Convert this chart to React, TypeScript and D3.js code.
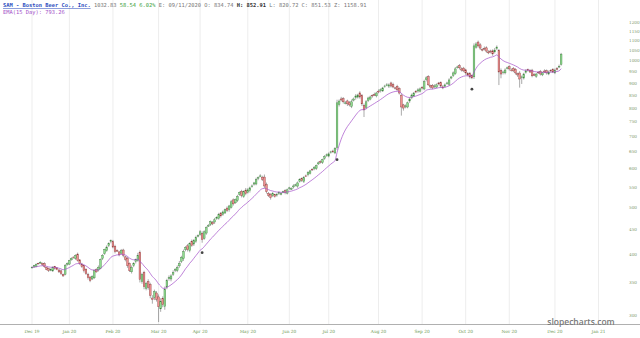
import React, { useEffect } from "react";
import * as d3 from "d3";

// Daily closes (Dec 2019 – Dec 2020)
const closes: number[] = [
  376, 379, 381, 383, 385, 381, 377, 372, 370, 372,
  376, 374, 372, 368, 365, 361, 379, 383, 388, 392,
  394, 398, 388, 383, 377, 370, 365, 358, 353, 360,
  370, 368, 376, 390, 398, 409, 414, 421, 427, 414,
  405, 407, 399, 407, 398, 390, 379, 370, 376, 383,
  390, 398, 355, 363, 343, 348, 342, 329, 323, 335,
  323, 312, 320, 315, 339, 353, 358, 361, 367, 372,
  376, 383, 394, 405, 413, 409, 421, 417, 427, 433,
  437, 445, 429, 445, 454, 458, 467, 462, 471, 476,
  483, 480, 489, 494, 492, 503, 513, 508, 518, 526,
  536, 528, 538, 533, 543, 548, 553, 561, 570, 575,
  580, 570, 553, 538, 528, 523, 533, 526, 531, 536,
  533, 538, 536, 543, 548, 546, 553, 556, 561, 570,
  567, 575, 580, 589, 594, 597, 603, 609, 617, 620,
  626, 635, 641, 644, 650, 650, 660, 820, 827, 831,
  824, 820, 816, 812, 824, 835, 847, 851, 843, 816,
  793, 824, 839, 843, 847, 851, 859, 863, 872, 880,
  888, 893, 893, 888, 884, 880, 872, 859, 804, 800,
  808, 820, 835, 851, 859, 863, 872, 876, 880, 906,
  923, 893, 884, 880, 888, 893, 897, 888, 880, 893,
  901, 914, 927, 945, 963, 972, 968, 958, 954, 945,
  936, 927, 923, 1074, 1084, 1074, 1063, 1053, 1058, 1048,
  1039, 1044, 1034, 1053, 1068, 949, 940, 949, 958, 968,
  963, 958, 954, 945, 936, 918, 927, 940, 954, 958,
  949, 932, 936, 940, 945, 940, 945, 949, 945, 949,
  954, 949, 958, 963, 974.29, 1032.83,
];

// Opening gap versus the previous close, in tenths of a percent
const openGap: number[] = [
  0, 3, -4, 6, 2, -5, 4, -3, 5, 2, -6, 4, 3, -2, 5, -4, 8, 6, -3, 4, 7,
  -5, 6, 4, -3, 5, 7, -4, 3, 8, -6, 5, 9, -4, 6, 8, -5, 7, 10, -6, 4, 5,
  -6, 8, 3, -7, 6, 10, -5, 8, 9, -4, 15, -10, 12, -8, 10, 14, -12, 9, -6,
  12, -10, 14, -8, 10, 9, -6, 8, 12, -5, 7, 10, -6, 9, 8, -5, 11, 7, -4, 9, 6, -8,
  5, -6, 8, 6, -4, 9, 5, -3, 7, 6, -5, 8, 4, -6, 9, 5, -4, 10, 6, -5, 8, 7, -4, 6, 9, -5, 5, 8, -6, 12, 7, -8, 6, 10, -5, 7, 4, -6, 8, 5, -3,
  6, -5, 8, 4, -6, 7, 5, -4, 9, 6, -3, 7, 5, -5, 8, 6, -4, 7, 5, -6, 9, 4, -5,
  5, -8, 10, 7, -6, 9, 5, -7, 8, 6, -5, 10, 7, -8, 12, 6, -5, 8, 7, -4, 9, 6, -5, 8, 5, -6, 9, 7, -4, 8, 6, -10, 10, 7, -5, 9, 6, -4, 8, 5, -6,
  7, -5, 10, 6, -4, 8, 7, -5, 9, 6, -4, 8, 5, -6, 9, 7, -4, 8, 6, -5, 9, 5, -4, 7, 6, 5, -6, 9, 5, -7, 8, 6, -4, 9, 5, 10, 7, -15, 8, 6, -4, 9, 5,
  -5, 8, 6, -4, 9, 7, -5, 8, 6, -3, 9, 5, -6, 8, 7, -4, 9, 6, -5, 8, 7, -4, 6, 9, 10,
];

// Upper / lower wick length beyond the body, in tenths of a percent
const wickHi: number[] = [
  5, 4, 6, 3, 5, 4, 7, 3, 4, 6, 5, 3, 4, 5, 6, 4, 8, 5, 4, 6, 3,
  5, 7, 4, 6, 3, 5, 8, 4, 6, 5, 7, 9, 5, 6, 4, 8, 6, 5, 9, 7, 6,
  5, 8, 6, 4, 7, 5, 9, 6, 5, 12, 8, 10, 7, 9, 11, 8, 14, 10, 9,
  12, 15, 10, 13, 9, 11, 8, 10, 7, 9, 12, 8, 10, 7, 9, 6, 8, 7, 9, 6, 8, 10,
  7, 6, 8, 5, 7, 9, 6, 8, 5, 7, 6, 8, 5, 9, 7, 6, 8, 5, 7, 6, 10, 8, 6, 7, 5, 9, 6, 8, 7, 12, 9, 7, 6, 8, 5, 7, 6, 8, 5, 7, 6,
  5, 6, 8, 5, 7, 6, 5, 8, 6, 7, 5, 6, 8, 5, 7, 6, 5, 8, 6, 7, 5, 6, 7,
  15, 8, 10, 7, 9, 6, 8, 11, 7, 9, 6, 8, 7, 10, 8, 6, 7, 5, 9, 6, 8, 7, 5, 6, 8, 7, 6, 9, 5, 7, 6, 8, 5, 7, 6, 8, 7, 5, 6, 8, 7,
  6, 10, 8, 7, 5, 6, 8, 7, 5, 6, 9, 7, 6, 8, 5, 7, 9, 6, 8, 7, 6, 5, 8, 7, 6, 12, 9, 7, 8, 6, 9, 7, 8, 6, 7, 10, 8, 6, 9, 7, 8, 6, 7,
  8, 6, 7, 5, 9, 7, 6, 8, 5, 7, 6, 8, 5, 6, 7, 5, 8, 6, 7, 5, 6, 7, 8, 9, 6,
];
const wickLo: number[] = [
  4, 6, 3, 5, 4, 7, 5, 3, 6, 4, 5, 6, 3, 5, 7, 4, 5, 6, 4, 3, 5,
  6, 4, 7, 5, 8, 6, 9, 7, 5, 6, 4, 7, 5, 8, 6, 5, 7, 9, 6, 8, 5,
  7, 6, 9, 8, 10, 6, 8, 7, 9, 6, 14, 10, 12, 9, 11, 13, 20, 12, 10,
  70, 14, 12, 16, 10, 9, 11, 8, 10, 7, 9, 8, 10, 7, 9, 8, 6, 9, 7, 8, 6, 15,
  6, 8, 5, 7, 6, 9, 5, 7, 8, 6, 5, 7, 9, 6, 8, 5, 7, 6, 8, 5, 7, 6, 9, 5, 7, 6, 8, 5, 7, 10, 8, 6, 9, 7, 5, 8, 6, 7, 5, 8, 6,
  6, 5, 7, 6, 8, 5, 6, 7, 5, 8, 6, 5, 7, 6, 5, 8, 6, 7, 5, 6, 8, 5, 6,
  10, 9, 7, 8, 6, 10, 7, 8, 6, 9, 7, 8, 10, 33, 9, 7, 6, 8, 5, 7, 6, 8, 5, 7, 6, 9, 7, 6, 8, 5, 7, 40, 12, 8, 6, 9, 7, 5, 6, 8, 6,
  7, 6, 8, 5, 7, 6, 9, 5, 7, 8, 6, 7, 5, 8, 6, 7, 5, 6, 8, 7, 6, 9, 7, 8, 6, 10, 7, 8, 9, 6, 7, 8, 6, 7, 9, 8, 7, 60, 20, 8, 7, 6, 8,
  7, 6, 8, 9, 40, 30, 7, 6, 8, 5, 7, 6, 8, 5, 7, 6, 5, 8, 6, 7, 5, 6, 7, 5, 6,
];

const markerIdx: number[] = [82, 147, 212];

const monthLabels: string[] = [
  "Dec 19", "Jan 20", "Feb 20", "Mar 20", "Apr 20", "May 20", "Jun 20",
  "Jul 20", "Aug 20", "Sep 20", "Oct 20", "Nov 20", "Dec 20", "Jan 21",
];
const monthIdx: number[] = [0, 18, 39, 61, 81, 104, 124, 143, 167, 188, 209, 230, 252, 273];

const yTicks: number[] = [
  300, 350, 400, 450, 500, 550, 600, 650, 700, 750, 800, 850, 900, 950,
  1000, 1050, 1100, 1150, 1200,
];

const emaPeriod = 15;

export default function App() {
  useEffect(() => {
    document.body.style.margin = "0";
  }, []);

  const W = 640;
  const H = 338;
  const x = d3.scaleLinear().domain([0, 273]).range([32, 598.5]);
  const y = d3.scaleLog().domain([300, 1200]).range([315, 22.5]);

  const candles = closes.map((c, i) => {
    const o = i === 0 ? c : closes[i - 1] * (1 + (openGap[i] ?? 0) / 1000);
    const hi = Math.max(o, c) * (1 + (wickHi[i] ?? 5) / 1000);
    const lo = Math.min(o, c) * (1 - (wickLo[i] ?? 5) / 1000);
    return { i, o, c, hi, lo };
  });

  const k = 2 / (emaPeriod + 1);
  const ema: number[] = [];
  closes.forEach((c, i) => {
    ema.push(i === 0 ? c : c * k + ema[i - 1] * (1 - k));
  });
  const emaLine = d3
    .line<number>()
    .x((_, i) => x(i))
    .y((d) => y(d))
    .curve(d3.curveMonotoneX);

  const bw = 1.7;
  const mono = "'DejaVu Sans Mono', monospace";

  return (
    <svg
      width={W}
      height={H}
      viewBox={`0 0 ${W} ${H}`}
      style={{ position: "absolute", left: 0, top: 0, background: "#fff" }}
    >
      <rect x={0} y={0} width={W} height={H} fill="#fff" />
      {monthIdx.map((m, j) => (
        <line
          key={"g" + j}
          x1={x(m)}
          x2={x(m)}
          y1={0}
          y2={324}
          stroke="#ededed"
          strokeWidth={1}
        />
      ))}
      <line x1={0} x2={W} y1={324.5} y2={324.5} stroke="#b0b0b0" strokeWidth={1} />
      {monthIdx.map((m, j) => (
        <text
          key={"xl" + j}
          x={x(m)}
          y={332.5}
          fontSize={4.3}
          fill="#6f9a55"
          textAnchor="middle"
          fontFamily="'DejaVu Serif', serif"
        >
          {monthLabels[j]}
        </text>
      ))}
      {yTicks.map((t) => (
        <text
          key={"yl" + t}
          x={629}
          y={y(t) + 1.5}
          fontSize={4.2}
          fill="#7f9a6f"
          fontFamily="'DejaVu Serif', serif"
        >
          {t}
        </text>
      ))}

      {candles.map((d) => {
        const up = d.c >= d.o;
        const top = y(Math.max(d.o, d.c));
        const bot = y(Math.min(d.o, d.c));
        const cx = x(d.i);
        return (
          <g key={"c" + d.i}>
            <line
              x1={cx}
              x2={cx}
              y1={y(d.hi)}
              y2={y(d.lo)}
              stroke="#555"
              strokeWidth={0.5}
            />
            <rect
              x={cx - bw / 2}
              y={top}
              width={bw}
              height={Math.max(bot - top, 0.6)}
              fill={up ? "#8fdc8f" : "#f09090"}
              stroke={up ? "#3f7f3f" : "#8a3a3a"}
              strokeWidth={0.4}
            />
          </g>
        );
      })}

      <path d={emaLine(ema) || ""} fill="none" stroke="#a34fc8" strokeWidth={0.7} />

      {markerIdx.map((m) => (
        <circle key={"m" + m} cx={x(m)} cy={y(candles[m].lo) + 10} r={1.4} fill="#444" />
      ))}

      <text x={3} y={7} fontSize={5.4} fontFamily={mono} fill="#777">
        <tspan fill="#2f4fc0" fontWeight="bold" textDecoration="underline">
          SAM - Boston Beer Co., Inc.
        </tspan>
        <tspan> 1032.83 </tspan>
        <tspan fill="#3aa03a">58.54 6.02%</tspan>
        <tspan> E: 09/11/2020 O: 834.74 </tspan>
        <tspan fill="#333" fontWeight="bold">H: 852.91</tspan>
        <tspan> L: 820.72 C: 851.53 Z: 1158.91</tspan>
      </text>
      <text x={3} y={14} fontSize={5.4} fontFamily={mono} fill="#a34fc8">
        EMA(15 Day): 793.26
      </text>

      <text
        x={581}
        y={325}
        fontSize={8.5}
        fontWeight={600}
        fill="#7a7a7a"
        textAnchor="middle"
        fontFamily="'Open Sans', sans-serif"
      >
        slopecharts.com
      </text>
    </svg>
  );
}
